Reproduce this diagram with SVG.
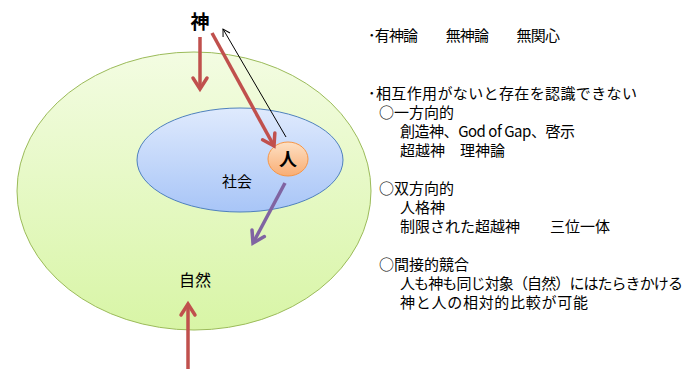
<svg xmlns="http://www.w3.org/2000/svg" width="688" height="369" viewBox="0 0 688 369">
<style>
  text { font-family: "Noto Sans CJK JP", "Noto Sans", sans-serif; fill: #000; }
  .desc { font-size: 15px; }
  .lbl { font-size: 16px; }
  .red { stroke: #c0504d; stroke-width: 3.5; fill: none; }
  .purple { stroke: #8064a2; stroke-width: 3.5; fill: none; }
  .thin { stroke: #000; stroke-width: 1; fill: none; }
</style>
<defs>
  <linearGradient id="gGreen" x1="0" y1="0" x2="0" y2="1">
    <stop offset="0" stop-color="#f3fce2"/>
    <stop offset="1" stop-color="#d8f5a6"/>
  </linearGradient>
  <linearGradient id="gBlue" x1="0" y1="0" x2="0" y2="1">
    <stop offset="0" stop-color="#dfeafd"/>
    <stop offset="1" stop-color="#a8c5f7"/>
  </linearGradient>
  <linearGradient id="gOrange" x1="0" y1="0" x2="0" y2="1">
    <stop offset="0" stop-color="#fde0c4"/>
    <stop offset="1" stop-color="#f9ad74"/>
  </linearGradient>
  <marker id="mRed" markerUnits="userSpaceOnUse" markerWidth="30" markerHeight="30" viewBox="-15 -15 30 30" refX="0" refY="0" orient="auto">
    <path d="M-11,-7 L0,0 L-11,7" stroke="#c0504d" stroke-width="3.5" fill="none" stroke-linecap="round" stroke-linejoin="miter"/>
  </marker>
  <marker id="mPurple" markerUnits="userSpaceOnUse" markerWidth="30" markerHeight="30" viewBox="-15 -15 30 30" refX="0" refY="0" orient="auto">
    <path d="M-11,-7 L0,0 L-11,7" stroke="#8064a2" stroke-width="3.5" fill="none" stroke-linecap="round"/>
  </marker>
  <marker id="mThin" markerUnits="userSpaceOnUse" markerWidth="20" markerHeight="20" viewBox="-10 -10 20 20" refX="0" refY="0" orient="auto">
    <path d="M-7,-4 L0,0 L-7,4" stroke="#000" stroke-width="1" fill="none"/>
  </marker>
</defs>

<g id="nature">
  <ellipse cx="194" cy="191" rx="177" ry="139" fill="url(#gGreen)" stroke="#9bbb59" stroke-width="1"/>
  <text class="lbl" x="195" y="286" text-anchor="middle">自然</text>
</g>

<g id="society">
  <ellipse cx="240" cy="160" rx="103" ry="52" fill="url(#gBlue)" stroke="#4f81bd" stroke-width="1"/>
  <text class="lbl" x="237" y="187" text-anchor="middle" style="font-size:15px">社会</text>
</g>

<g id="human">
  <ellipse cx="288" cy="159" rx="20" ry="17" fill="url(#gOrange)" stroke="#f79646" stroke-width="1"/>
  <text x="288" y="166" text-anchor="middle" style="font-size:18px;font-weight:bold">人</text>
</g>

<g id="god">
  <text x="200" y="29" text-anchor="middle" style="font-size:19px;font-weight:bold">神</text>
</g>

<g id="connectors">
  <line class="red" x1="200" y1="37" x2="200" y2="89" marker-end="url(#mRed)"/>
  <line class="red" x1="212" y1="33" x2="274" y2="146" marker-end="url(#mRed)"/>
  <line class="thin" x1="286" y1="137" x2="223" y2="29" marker-end="url(#mThin)"/>
  <line class="purple" x1="285" y1="183" x2="253" y2="243" marker-end="url(#mPurple)"/>
  <line class="red" x1="188" y1="369" x2="188" y2="304" marker-end="url(#mRed)"/>
</g>

<g id="notes">
  <text class="desc" x="368" y="41" textLength="192" lengthAdjust="spacing">･有神論　　無神論　　無関心</text>
  <text class="desc" x="368" y="99" textLength="269" lengthAdjust="spacing">･相互作用がないと存在を認識できない</text>
  <text class="desc" x="379" y="118">○一方向的</text>
  <text class="desc" x="400" y="137" textLength="175" lengthAdjust="spacing">創造神、God of Gap、啓示</text>
  <text class="desc" x="400" y="156">超越神　理神論</text>
  <text class="desc" x="379" y="194">○双方向的</text>
  <text class="desc" x="400" y="213">人格神</text>
  <text class="desc" x="400" y="232">制限された超越神　　三位一体</text>
  <text class="desc" x="379" y="270">○間接的競合</text>
  <text class="desc" x="400" y="289" textLength="283" lengthAdjust="spacing">人も神も同じ対象（自然）にはたらきかける</text>
  <text class="desc" x="400" y="308" textLength="188" lengthAdjust="spacing">神と人の相対的比較が可能</text>
</g>
</svg>
